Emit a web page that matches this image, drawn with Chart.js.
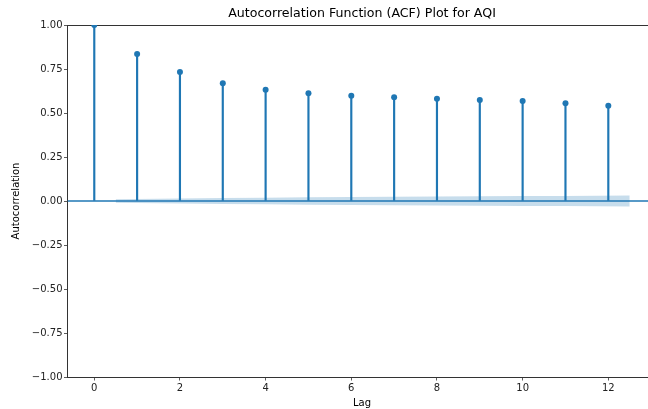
<!DOCTYPE html>
<html>
<head>
<meta charset="utf-8">
<script src="https://cdn.jsdelivr.net/npm/chart.js@4/dist/chart.umd.min.js"></script>
<style>
  html, body { margin: 0; padding: 0; background: #fff; overflow: hidden; }
  #wrap { width: 648px; height: 409px; overflow: hidden; position: relative; }
  canvas { display: block; }
</style>
</head>
<body>
<div id="wrap"><canvas id="c" width="724" height="409"></canvas></div>
<script>
const lags = [0, 1, 2, 3, 4, 5, 6, 7, 8, 9, 10, 11, 12];
const acfValues = [1.000, 0.835, 0.733, 0.669, 0.632, 0.612, 0.598, 0.589, 0.581, 0.574, 0.568, 0.555, 0.541];
const bandX = [0.5, 2, 3, 4, 5, 6, 7, 8, 9, 10, 11, 12.5];
const bandHalfWidth = [0.010, 0.014, 0.017, 0.019, 0.021, 0.023, 0.024, 0.026, 0.027, 0.028, 0.029, 0.031];
const xTickValues = [0, 2, 4, 6, 8, 10, 12];
const yTickValues = [-1.00, -0.75, -0.50, -0.25, 0.00, 0.25, 0.50, 0.75, 1.00];
const xLimits = [-0.625, 13.125];
const yLimits = [-1, 1];

const C0 = '#1f77b4';
const SPINE = '#333333';
const FONT = "'DejaVu Sans', sans-serif";

const fmtY = v => v.toFixed(2).replace('-', '\u2212');

new Chart(document.getElementById('c'), {
  type: 'bar',
  data: {
    datasets: [
      {
        type: 'scatter',
        data: lags.map((l, i) => ({ x: l, y: acfValues[i] })),
        backgroundColor: C0,
        borderColor: C0,
        borderWidth: 0,
        pointRadius: 3,
        showLine: false,
        clip: 0
      },
      {
        type: 'bar',
        data: lags.map((l, i) => ({ x: l, y: acfValues[i] })),
        backgroundColor: C0,
        borderWidth: 0,
        barThickness: 1.5,
        grouped: false
      },
      {
        type: 'line',
        data: xLimits.map(x => ({ x: x, y: 0 })),
        borderColor: C0,
        borderWidth: 1.5,
        pointRadius: 0,
        fill: false
      },
      {
        type: 'line',
        data: bandX.map((x, i) => ({ x: x, y: bandHalfWidth[i] })),
        borderWidth: 0,
        borderColor: 'rgba(0,0,0,0)',
        pointRadius: 0,
        fill: false,
        tension: 0
      },
      {
        type: 'line',
        data: bandX.map((x, i) => ({ x: x, y: -bandHalfWidth[i] })),
        borderWidth: 0,
        borderColor: 'rgba(0,0,0,0)',
        backgroundColor: 'rgba(31,119,180,0.25)',
        pointRadius: 0,
        fill: '-1',
        tension: 0
      }
    ]
  },
  options: {
    responsive: false,
    animation: false,
    devicePixelRatio: 1,
    layout: { padding: 0 },
    plugins: {
      legend: { display: false },
      tooltip: { enabled: false },
      title: {
        display: true,
        text: 'Autocorrelation Function (ACF) Plot for AQI',
        color: '#000',
        font: { family: FONT, size: 12.6, weight: 'normal', lineHeight: 1.2 },
        padding: { top: 6.5, bottom: 3.4 }
      }
    },
    scales: {
      x: {
        type: 'linear',
        position: 'bottom',
        offset: false,
        min: xLimits[0],
        max: xLimits[1],
        afterBuildTicks: s => { s.ticks = xTickValues.map(v => ({ value: v })); },
        afterFit: s => { s.height = 32; },
        ticks: {
          color: '#222',
          font: { family: FONT, size: 10 },
          padding: 2,
          maxRotation: 0,
          callback: v => String(v)
        },
        grid: {
          display: true,
          offset: false,
          drawOnChartArea: false,
          drawTicks: true,
          tickLength: 3.5,
          tickColor: SPINE,
          tickWidth: 0.8
        },
        border: { display: true, color: SPINE, width: 1 },
        title: {
          display: true,
          text: 'Lag',
          color: '#000',
          font: { family: FONT, size: 10, lineHeight: 1.2 },
          padding: { top: 0, bottom: 0 }
        }
      },
      xTop: {
        type: 'linear',
        position: 'top',
        offset: false,
        min: xLimits[0],
        max: xLimits[1],
        afterFit: s => { s.height = 0; },
        ticks: { display: false },
        grid: { display: false, drawTicks: false, offset: false },
        border: { display: true, color: SPINE, width: 1 }
      },
      y: {
        type: 'linear',
        position: 'left',
        min: yLimits[0],
        max: yLimits[1],
        afterBuildTicks: s => { s.ticks = yTickValues.map(v => ({ value: v })); },
        afterFit: s => { s.width = 67.5; },
        ticks: {
          color: '#222',
          font: { family: FONT, size: 10 },
          padding: 1.5,
          callback: v => fmtY(v)
        },
        grid: {
          display: true,
          drawOnChartArea: false,
          drawTicks: true,
          tickLength: 3.5,
          tickColor: SPINE,
          tickWidth: 0.8
        },
        border: { display: true, color: SPINE, width: 1 },
        title: {
          display: true,
          text: 'Autocorrelation',
          color: '#000',
          font: { family: FONT, size: 10, lineHeight: 1.2 },
          padding: { top: 10, bottom: 0 }
        }
      },
      yRight: {
        type: 'linear',
        position: 'right',
        min: yLimits[0],
        max: yLimits[1],
        afterFit: s => { s.width = 67.5; },
        ticks: { display: false },
        grid: { display: false, drawTicks: false },
        border: { display: true, color: SPINE, width: 1 }
      }
    }
  }
});
</script>
</body>
</html>
